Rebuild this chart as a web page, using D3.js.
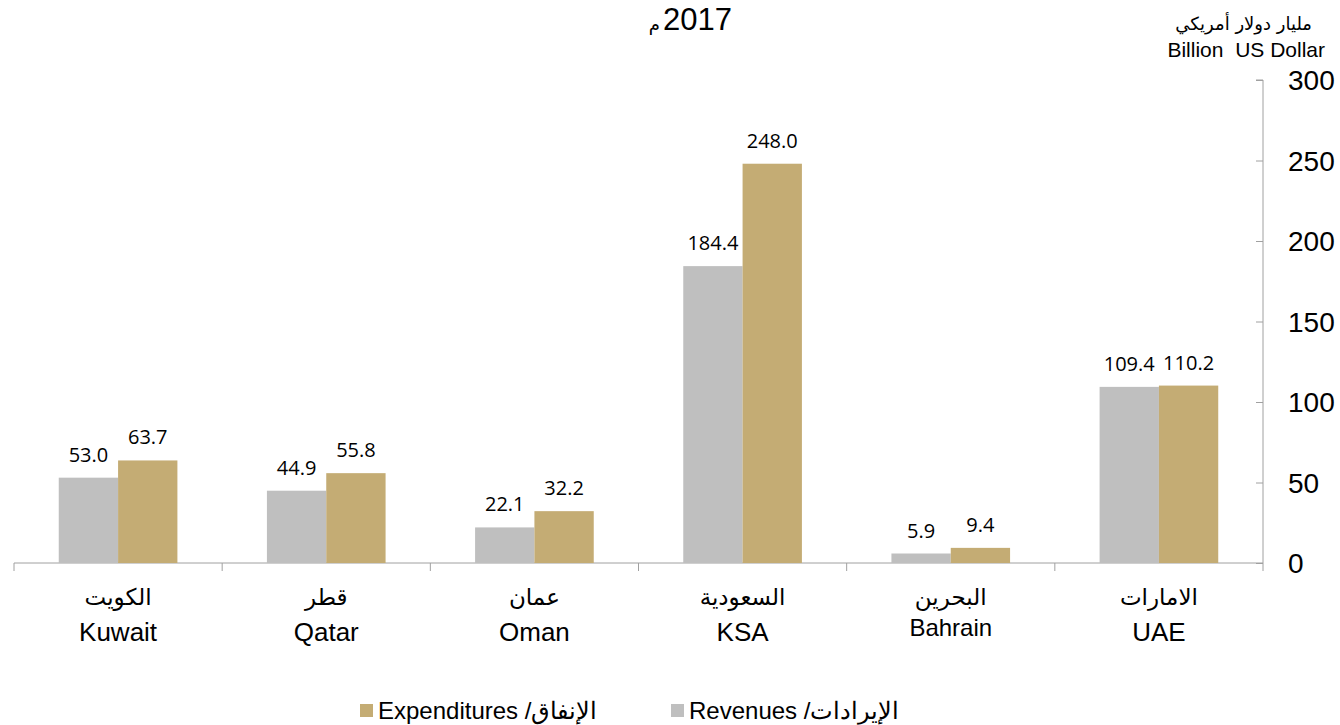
<!DOCTYPE html>
<html>
<head>
<meta charset="utf-8">
<script src="https://cdn.jsdelivr.net/npm/d3@7"></script>
<style>
  body { margin: 0; background: #fff; }
  text { font-family: "Liberation Sans", Arial, sans-serif; }
</style>
</head>
<body>
<div id="chart"></div>
<script>
const W = 1340, H = 725;

const countriesAr = ["الكويت", "قطر", "عمان", "السعودية", "البحرين", "الامارات"];
const countriesEn = ["Kuwait", "Qatar", "Oman", "KSA", "Bahrain", "UAE"];
const revenues = [53.0, 44.9, 22.1, 184.4, 5.9, 109.4];
const expenditures = [63.7, 55.8, 32.2, 248.0, 9.4, 110.2];
const yTicks = [0, 50, 100, 150, 200, 250, 300];
const seriesKeys = ["rev", "exp"];
const seriesColors = {rev: "#bfbfbf", exp: "#c4ac74"};

const plotLeft = 14, plotRight = 1263, plotTop = 80, plotBottom = 563;

var svg = d3.select("#chart").append("svg")
    .attr("width", W)
    .attr("height", H);

const x = d3.scaleBand()
    .domain(countriesEn)
    .range([plotLeft, plotRight])
    .paddingInner(0.43)
    .paddingOuter(0.215);

const xSub = d3.scaleBand()
    .domain(seriesKeys)
    .range([0, x.bandwidth()]);

const y = d3.scaleLinear()
    .domain([0, 300])
    .range([plotBottom, plotTop]);

const rows = countriesEn.map((c, i) => ({
    en: c, ar: countriesAr[i], rev: revenues[i], exp: expenditures[i]
}));

// y axis on the right, ticks pointing left, labels on the right
const yAxis = svg.append("g")
    .attr("transform", `translate(${plotRight},0)`)
    .call(d3.axisLeft(y).tickValues(yTicks).tickSize(7).tickFormat(""));
yAxis.select(".domain").attr("stroke", "#a0a0a0").attr("d", `M-7,${plotTop}H0V${plotBottom}`);
yAxis.selectAll(".tick line").attr("stroke", "#a0a0a0");

svg.append("g").selectAll("text")
    .data(yTicks)
    .enter().append("text")
    .attr("x", plotRight + 25)
    .attr("y", d => y(d))
    .attr("dy", "0.36em")
    .style("font-size", "28px")
    .style("fill", "#000")
    .text(d => d);

// x axis line with dividers between categories
const bounds = d3.range(countriesEn.length + 1).map(i => plotLeft + i * x.step());
svg.append("line")
    .attr("x1", plotLeft).attr("x2", plotRight)
    .attr("y1", y(0)).attr("y2", y(0))
    .attr("stroke", "#a0a0a0");
svg.append("g").selectAll("line")
    .data(bounds)
    .enter().append("line")
    .attr("x1", d => d).attr("x2", d => d)
    .attr("y1", y(0)).attr("y2", y(0) + 8)
    .attr("stroke", "#a0a0a0");

// bars
const groups = svg.append("g").selectAll("g")
    .data(rows)
    .enter().append("g")
    .attr("transform", d => `translate(${x(d.en)},0)`);

groups.selectAll("rect")
    .data(d => seriesKeys.map(k => ({key: k, value: d[k]})))
    .enter().append("rect")
    .attr("x", d => xSub(d.key))
    .attr("width", xSub.bandwidth())
    .attr("y", d => y(d.value))
    .attr("height", d => y(0) - y(d.value))
    .attr("fill", d => seriesColors[d.key]);

groups.selectAll(".val")
    .data(d => seriesKeys.map(k => ({key: k, value: d[k]})))
    .enter().append("text")
    .attr("class", "val")
    .attr("x", d => xSub(d.key) + xSub.bandwidth() / 2)
    .attr("y", d => y(d.value) - 16)
    .style("text-anchor", "middle")
    .style("font-family", "'Open Sans', sans-serif")
    .style("font-size", "20px")
    .text(d => d.value.toFixed(1));

// category labels
groups.append("text")
    .attr("x", x.bandwidth() / 2)
    .attr("y", 605)
    .style("text-anchor", "middle")
    .style("font-family", "'DejaVu Sans', sans-serif")
    .style("font-size", "23px")
    .text(d => d.ar);

groups.append("text")
    .attr("x", x.bandwidth() / 2)
    .attr("y", d => d.en === "Bahrain" ? 636 : 641)
    .style("text-anchor", "middle")
    .style("font-size", d => d.en === "Bahrain" ? "24px" : "26px")
    .text(d => d.en);

// title
svg.append("text")
    .attr("x", 732).attr("y", 30)
    .style("text-anchor", "end")
    .style("font-size", "31px")
    .text("2017");
svg.append("text")
    .attr("x", 660).attr("y", 31)
    .style("text-anchor", "end")
    .style("font-family", "'DejaVu Sans', sans-serif")
    .style("font-size", "18px")
    .text("م");

// unit labels
svg.append("text")
    .attr("x", 1312).attr("y", 30)
    .style("text-anchor", "end")
    .style("font-family", "'DejaVu Sans', sans-serif")
    .style("font-size", "18px")
    .text("مليار دولار أمريكي");
svg.append("text")
    .attr("x", 1325).attr("y", 57)
    .style("text-anchor", "end")
    .style("font-size", "21px")
    .style("white-space", "pre")
    .text("Billion  US Dollar");

// legend
const legendItems = [
    {key: "exp", label: "Expenditures /الإنفاق", x: 360},
    {key: "rev", label: "Revenues /الإيرادات", x: 671}
];
const legend = svg.append("g").selectAll("g")
    .data(legendItems)
    .enter().append("g")
    .attr("transform", d => `translate(${d.x},704)`);
legend.append("rect")
    .attr("width", 13).attr("height", 13)
    .attr("fill", d => seriesColors[d.key]);
legend.append("text")
    .attr("x", 18).attr("y", 15)
    .style("font-size", "24px")
    .text(d => d.label);
</script>
</body>
</html>
